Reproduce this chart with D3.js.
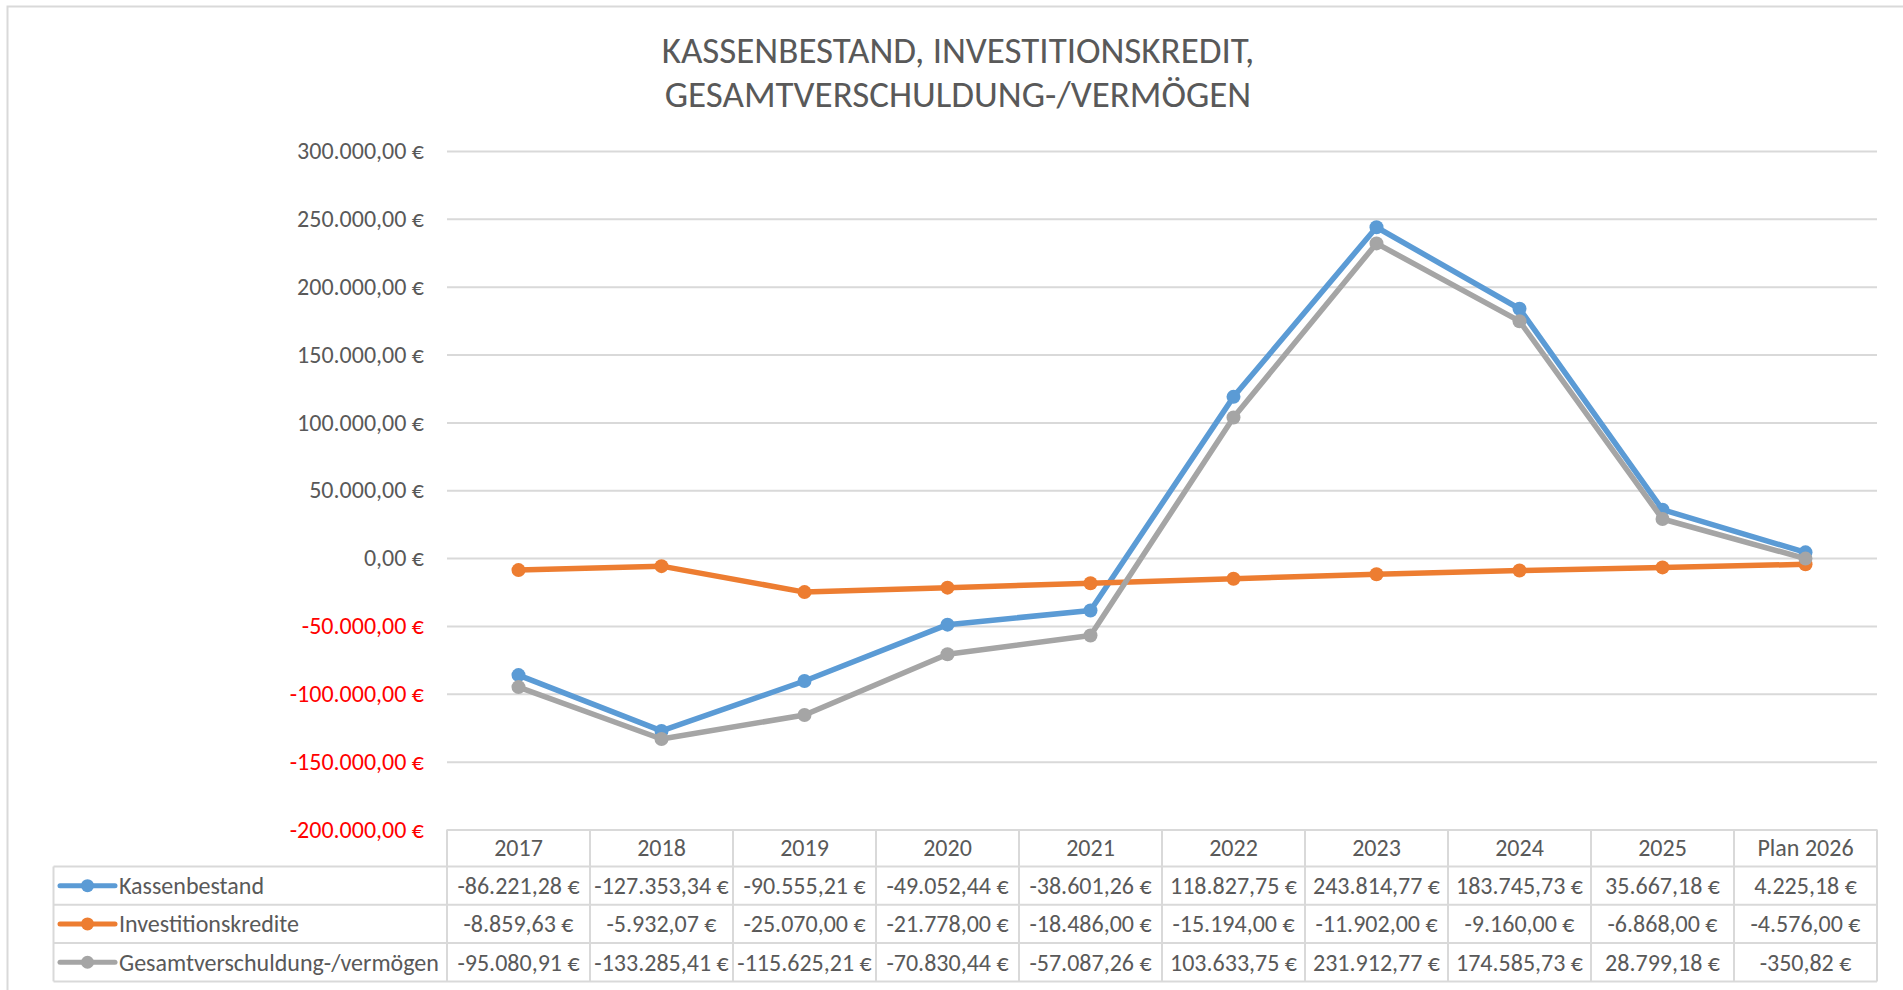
<!DOCTYPE html>
<html lang="de">
<head>
<meta charset="utf-8">
<title>Kassenbestand, Investitionskredit, Gesamtverschuldung</title>
<script src="https://cdn.jsdelivr.net/npm/d3@7"></script>
<style>
    body { margin: 0; background: #ffffff; }
    svg { display: block; font-family: Calibri, Carlito, Roboto, "Noto Sans", sans-serif; }
</style>
</head>
<body>
<div id="chart"></div>
<script>
// Values.
const categories = ["2017", "2018", "2019", "2020", "2021", "2022", "2023", "2024", "2025", "Plan 2026"];
const kassenbestand = [-86221.28, -127353.34, -90555.21, -49052.44, -38601.26, 118827.75, 243814.77, 183745.73, 35667.18, 4225.18];
const investitionskredite = [-8859.63, -5932.07, -25070.00, -21778.00, -18486.00, -15194.00, -11902.00, -9160.00, -6868.00, -4576.00];
const gesamtverschuldung = [-95080.91, -133285.41, -115625.21, -70830.44, -57087.26, 103633.75, 231912.77, 174585.73, 28799.18, -350.82];
const seriesNames = ["Kassenbestand", "Investitionskredite", "Gesamtverschuldung-/vermögen"];
const seriesColors = ["#5b9bd5", "#ed7d31", "#a5a5a5"];
const yTicks = [-200000, -150000, -100000, -50000, 0, 50000, 100000, 150000, 200000, 250000, 300000];
const titleLines = ["KASSENBESTAND, INVESTITIONSKREDIT,", "GESAMTVERSCHULDUNG-/VERMÖGEN"];

const WIDTH = 1903;
const HEIGHT = 990;
const TEXT_COLOR = "#595959";
const LINE_COLOR = "#d9d9d9";
const FONT_SIZE = "24px";

const series = seriesNames.map((name, i) => ({
    name,
    color: seriesColors[i],
    values: [kassenbestand, investitionskredite, gesamtverschuldung][i]
}));

const de = d3.formatLocale({
    decimal: ",",
    thousands: ".",
    grouping: [3],
    currency: ["", " €"],
    minus: "-"
});
const euro = v => de.format(",.2f")(v) + " €";

const svg = d3.select("#chart")
    .append("svg")
    .attr("width", WIDTH)
    .attr("height", HEIGHT);

// Chart area border (runs off the right and bottom of the picture).
svg.append("rect")
    .attr("x", 7.5)
    .attr("y", 6.5)
    .attr("width", WIDTH + 20)
    .attr("height", HEIGHT + 20)
    .attr("fill", "none")
    .attr("stroke", LINE_COLOR)
    .attr("stroke-width", 2);

svg.append("text")
    .attr("text-anchor", "middle")
    .style("font-size", "37px")
    .style("fill", TEXT_COLOR)
    .selectAll("tspan")
    .data(titleLines)
    .join("tspan")
    .attr("x", 958)
    .attr("y", (d, i) => 63 + i * 44)
    .text(d => d);

const x = d3.scaleBand()
    .domain(categories)
    .range([447, 1877]);

const y = d3.scaleLinear()
    .domain([-200000, 300000])
    .range([829.5, 151]);

const plotW = x.range()[1] - x.range()[0];

// Value axis with gridlines; negative labels in red.
const yAxis = svg.append("g")
    .attr("transform", `translate(${x.range()[0]},0)`)
    .call(d3.axisLeft(y)
        .tickValues(yTicks)
        .tickSize(-plotW)
        .tickPadding(23)
        .tickFormat(euro));

yAxis.select(".domain").remove();
yAxis.selectAll(".tick line")
    .attr("stroke", LINE_COLOR)
    .attr("stroke-width", 2);
yAxis.selectAll(".tick text")
    .style("font-size", FONT_SIZE)
    .style("font-family", "Calibri, Carlito, Roboto, sans-serif")
    .attr("fill", d => d < 0 ? "#ff0000" : TEXT_COLOR);

// Data table under the plot.
const headerTop = y(-200000);
const headerH = 37;
const rowH = 38.3;
const tableLeft = 53.5;
const tableRight = x.range()[1];
const rowTop = i => headerTop + headerH + i * rowH;
const tableBottom = rowTop(series.length);

const table = svg.append("g")
    .attr("stroke", LINE_COLOR)
    .attr("stroke-width", 2);

table.selectAll("line.col")
    .data(categories.concat([null]))
    .join("line")
    .attr("class", "col")
    .attr("x1", (d, i) => x.range()[0] + i * x.step())
    .attr("x2", (d, i) => x.range()[0] + i * x.step())
    .attr("y1", headerTop)
    .attr("y2", tableBottom);

table.selectAll("line.row")
    .data(d3.range(series.length + 1))
    .join("line")
    .attr("class", "row")
    .attr("x1", tableLeft)
    .attr("x2", tableRight)
    .attr("y1", d => rowTop(d))
    .attr("y2", d => rowTop(d));

table.append("line")
    .attr("x1", tableLeft)
    .attr("x2", tableLeft)
    .attr("y1", rowTop(0))
    .attr("y2", tableBottom);

svg.append("g")
    .selectAll("text")
    .data(categories)
    .join("text")
    .attr("x", d => x(d) + x.bandwidth() / 2)
    .attr("y", headerTop + headerH / 2)
    .attr("dy", "0.35em")
    .attr("text-anchor", "middle")
    .style("font-size", FONT_SIZE)
    .style("fill", TEXT_COLOR)
    .text(d => d);

const rows = svg.append("g")
    .selectAll("g")
    .data(series)
    .join("g")
    .attr("transform", (d, i) => `translate(0,${rowTop(i) + rowH / 2})`);

rows.selectAll("text.val")
    .data(d => d.values)
    .join("text")
    .attr("class", "val")
    .attr("x", (d, i) => x(categories[i]) + x.bandwidth() / 2)
    .attr("dy", "0.35em")
    .attr("text-anchor", "middle")
    .style("font-size", FONT_SIZE)
    .style("fill", TEXT_COLOR)
    .text(euro);

// Legend keys inside the table's first column.
rows.append("line")
    .attr("x1", 60)
    .attr("x2", 115)
    .attr("stroke", d => d.color)
    .attr("stroke-width", 5)
    .attr("stroke-linecap", "round");

rows.append("circle")
    .attr("cx", 87.5)
    .attr("r", 6.5)
    .attr("fill", d => d.color);

rows.append("text")
    .attr("x", 119)
    .attr("dy", "0.35em")
    .style("font-size", FONT_SIZE)
    .style("fill", TEXT_COLOR)
    .text(d => d.name);

// Series lines with round markers.
const line = d3.line()
    .x((d, i) => x(categories[i]) + x.bandwidth() / 2)
    .y(d => y(d));

const lines = svg.append("g")
    .selectAll("g")
    .data(series)
    .join("g");

lines.append("path")
    .attr("d", d => line(d.values))
    .attr("fill", "none")
    .attr("stroke", d => d.color)
    .attr("stroke-width", 5.5)
    .attr("stroke-linejoin", "round")
    .attr("stroke-linecap", "round");

lines.selectAll("circle")
    .data(d => d.values.map(v => ({ v, color: d.color })))
    .join("circle")
    .attr("cx", (d, i) => x(categories[i]) + x.bandwidth() / 2)
    .attr("cy", d => y(d.v))
    .attr("r", 7)
    .attr("fill", d => d.color);
</script>
</body>
</html>
